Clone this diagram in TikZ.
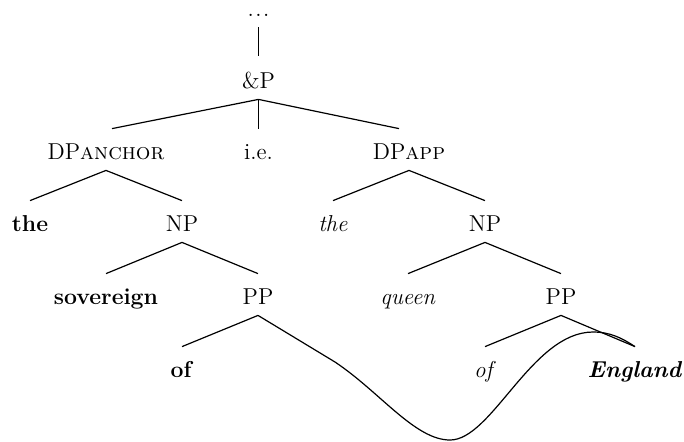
\documentclass[tikz,border=0pt]{standalone}
\usepackage{tikz}

\tikzset{
  cat/.style={anchor=base, inner xsep=1pt, inner ysep=3pt,
    text height=12pt, text depth=2.5pt, font=\fontsize{11.5}{14}\selectfont},
  branch/.style={line width=0.6pt}
}

\begin{document}
\begin{tikzpicture}[x=0.5pt, y=-0.5pt]
                \useasboundingbox (0,0) rectangle (684,441);
                % nodes: name/x/baseline/text
                \node[cat, text height=0pt, inner ysep=1pt] (dots) at (258.5,16) {\makebox[11pt]{.\hfill.\hfill.}};
                \foreach \n/\x/\y/\t in {amp/258.5/88/{\&P},
                    dpa/106/159/{DP\textsc{anchor}}, ie/258.5/159/{i.e.}, dpb/409/159/{DP\textsc{app}},
                    thea/30/231/{\textbf{the}}, npa/182/231/{NP}, theb/333/231/{\textit{the}}, npb/485/231/{NP},
                    sov/106/304/{\textbf{sovereign}}, ppa/258/304/{PP}, queen/408/304/{\textit{queen}}, ppb/561/304/{PP},
                    ofa/182/377/{\textbf{of}}, ofb/485/377/{\textit{of}}, eng/635/377/{\textbf{\textit{England}}}} {
                    \node[cat] (\n) at (\x,\y) {\t};
                }

                \draw[branch, shorten <=2pt, shorten >=1pt] (dots.south) -- (amp.north);
                \draw[branch] (amp.south) -- ([xshift=3pt]dpa.north);
                \draw[branch] (amp.south) -- (ie.north);
                \draw[branch] (amp.south) -- ([xshift=-5pt]dpb.north);
                \foreach \a/\b in {dpa/thea, dpa/npa, dpb/theb, dpb/npb,
                    npa/sov, npa/ppa, npb/queen, npb/ppb,
                    ppa/ofa, ppb/ofb, ppb/eng} {
                    \draw[branch] (\a.south) -- (\b.north);
                }

                % the wavy line from PP to England
                \coordinate (w1) at (335,362);
                \coordinate (w2) at (450,440);
                \coordinate (w3) at (593,332);
                \draw[branch] (ppa.south) -- (w1)
                    .. controls (380,392) and (415,440) .. (w2)
                    .. controls (492,440) and (532,332) .. (w3)
                    .. controls (610,332) and (622,338) .. (eng.north);
            \end{tikzpicture}
\end{document}
